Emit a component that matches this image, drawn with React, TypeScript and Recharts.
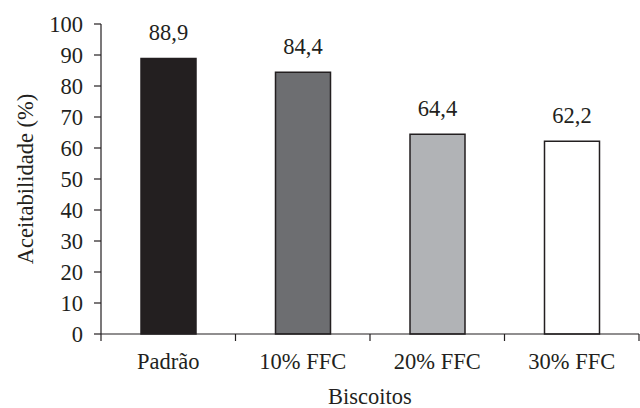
import { Bar, BarChart, Cell, LabelList, XAxis, YAxis } from 'recharts';

const categories = ['Padrão', '10% FFC', '20% FFC', '30% FFC'];
const values = [88.9, 84.4, 64.4, 62.2];
const yTicks = [0, 10, 20, 30, 40, 50, 60, 70, 80, 90, 100];
const fills = ['#231f20', '#6d6e71', '#b1b3b6', '#ffffff'];

const data = categories.map((name, i) => ({ name, value: values[i] }));

const W = 640;
const H = 408;
const MARGIN = { top: 24, right: 1, bottom: 0, left: 0 };
const Y_WIDTH = 101;
const X_HEIGHT = 74;
const INK = '#231f20';
const FONT = '"Liberation Serif", "Times New Roman", serif';
const FS = 22.5;
const TICK_SIZE = 7;
const TICK_MARGIN = 12;

const bandWidth = (W - MARGIN.left - MARGIN.right - Y_WIDTH) / categories.length;

function XTick(props: any) {
  const { x, y, payload, index } = props;
  const axisY = y - TICK_SIZE - TICK_MARGIN;
  return (
    <g>
      <line x1={x - bandWidth / 2} x2={x - bandWidth / 2} y1={axisY} y2={axisY + TICK_SIZE} stroke={INK} strokeWidth={1.2} />
      {index === categories.length - 1 && (
        <line x1={x + bandWidth / 2} x2={x + bandWidth / 2} y1={axisY} y2={axisY + TICK_SIZE} stroke={INK} strokeWidth={1.2} />
      )}
      <text x={x} y={axisY + 35} textAnchor="middle" fill={INK} fontFamily={FONT} fontSize={FS}>
        {payload.value}
      </text>
    </g>
  );
}

function YLabel(props: any) {
  const vb = props.viewBox;
  const cx = 25;
  const cy = vb.y + vb.height / 2;
  return (
    <text
      x={cx}
      y={cy}
      transform={`rotate(-90, ${cx}, ${cy})`}
      textAnchor="middle"
      dominantBaseline="central"
      fill={INK}
      fontFamily={FONT}
      fontSize={FS}
    >
      Aceitabilidade (%)
    </text>
  );
}

function XLabel(props: any) {
  const vb = props.viewBox;
  return (
    <text x={vb.x + vb.width / 2} y={404} textAnchor="middle" fill={INK} fontFamily={FONT} fontSize={FS}>
      Biscoitos
    </text>
  );
}

export default function App() {
  return (
    <div style={{ position: 'absolute', left: 0, top: 0, width: W, height: H, background: '#fff' }}>
      <BarChart width={W} height={H} data={data} margin={MARGIN}>
        <XAxis
          dataKey="name"
          height={X_HEIGHT}
          axisLine={{ stroke: INK, strokeWidth: 1.2 }}
          tickLine={false}
          tickSize={TICK_SIZE}
          tickMargin={TICK_MARGIN}
          tick={<XTick />}
          interval={0}
          label={<XLabel />}
        />
        <YAxis
          width={Y_WIDTH}
          domain={[0, 100]}
          ticks={yTicks}
          interval={0}
          axisLine={{ stroke: INK, strokeWidth: 1.2 }}
          tickLine={{ stroke: INK, strokeWidth: 1.2 }}
          tickSize={TICK_SIZE}
          tickMargin={11}
          tick={{ fill: INK, fontFamily: FONT, fontSize: FS }}
          label={<YLabel />}
        />
        <Bar dataKey="value" barSize={55} stroke={INK} strokeWidth={1.5} isAnimationActive={false}>
          {data.map((_, i) => (
            <Cell key={`cell-${i}`} fill={fills[i]} />
          ))}
          <LabelList
            dataKey="value"
            position="top"
            offset={18}
            formatter={(v: any) => String(v).replace('.', ',')}
            style={{ fill: INK, fontFamily: FONT, fontSize: FS }}
          />
        </Bar>
      </BarChart>
    </div>
  );
}
